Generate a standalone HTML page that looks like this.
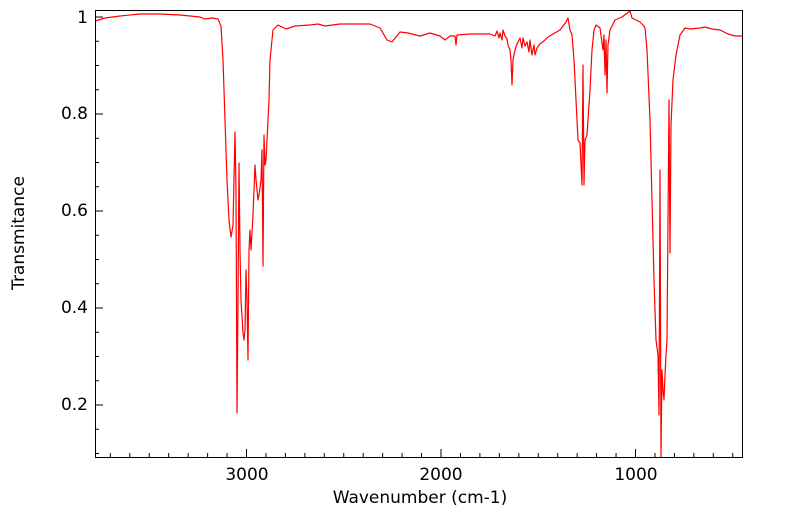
<!DOCTYPE html>
<html><head><meta charset="utf-8"><style>body{margin:0;background:#fff}svg{display:block}text{font-family:"DejaVu Sans","Liberation Sans",sans-serif;font-size:17px;fill:#000}</style></head>
<body>
<svg width="799" height="516" viewBox="0 0 799 516">
<rect width="799" height="516" fill="#fff"/>
<g id="ticks" stroke="#000" stroke-width="1"></g>
<polyline fill="none" stroke="#ff0000" stroke-width="1.2" stroke-linejoin="round" points="95,21 105,18 120,16 140,14 160,14 180,15 200,17 205,19 212,18 218,19 221,26 223,60 225,120 227,180 229,220 231,237 233,225 235,132 236,190 237,413 238,300 239,163 240,250 241,300 243,333 244,340 245,330 246,270 247,300 248,360 249,250 250,230 251,250 253,215 255,165 256,180 258,200 259,195 261,180 262,150 263,266 264,135 265,165 266,160 267,140 269,100 270,60 273,30 278,25 286,29 295,26 310,25 318,24 325,26 340,24 370,24 380,28 387,40 392,42 400,32 408,33 420,36 430,33 440,36 445,40 450,36 455,36 456,45 457,35 470,34 480,34 490,34 495,36 497,31 499,38 500,33 502,40 503,30 505,36 507,39 508,45 510,50 511,60 512,85 513,60 515,50 517,44 520,38 522,48 523,38 525,46 527,42 529,52 530,40 532,55 534,45 535,55 537,48 540,44 545,40 548,37 553,34 560,30 566,22 568,18 570,30 572,35 574,60 576,100 578,140 580,143 582,185 583,65 584,185 585,140 587,135 590,90 592,50 594,30 596,25 600,28 603,50 604,35 605,75 606,40 607,93 608,45 610,30 615,20 622,17 630,11 632,18 636,20 640,22 643,25 645,28 647,50 650,120 652,200 654,280 656,340 658,355 659,415 660,170 661,457 662,370 663,390 664,400 665,375 666,355 667,340 669,100 670,253 671,125 673,80 676,55 680,35 685,28 690,29 700,28 705,27 712,29 720,30 728,34 735,36 742,36"/>
<rect x="95.5" y="10.5" width="647" height="447" fill="none" stroke="#000" stroke-width="1"/>
<g text-anchor="end">
<text x="88" y="23">1</text><text x="88" y="119">0.8</text><text x="88" y="216">0.6</text><text x="88" y="313">0.4</text><text x="88" y="410">0.2</text>
</g>
<g text-anchor="middle">
<text x="247" y="480">3000</text><text x="441" y="480">2000</text><text x="636" y="480">1000</text>
<text x="420" y="503">Wavenumber (cm-1)</text>
</g>
<text transform="translate(24,233) rotate(-90)" text-anchor="middle">Transmitance</text>
</svg>
<script>
var g=document.getElementById('ticks'),s='';
for(var w=3700;w>=500;w-=100){var x=441-(w-2000)*0.1945;var L=(w%1000==0)?8:4;s+='<line x1="'+x+'" y1="457" x2="'+x+'" y2="'+(457-L)+'"/>';}
for(var v=0.1;v<=1.001;v+=0.05){var y=17+(1-v)*485;var L=(Math.round(v*100)%10==0&&Math.round(v*100)%20==0)?8:4;s+='<line x1="95" y1="'+y+'" x2="'+(95+L)+'" y2="'+y+'"/>';}
g.innerHTML=s;
</script>
</body></html>
